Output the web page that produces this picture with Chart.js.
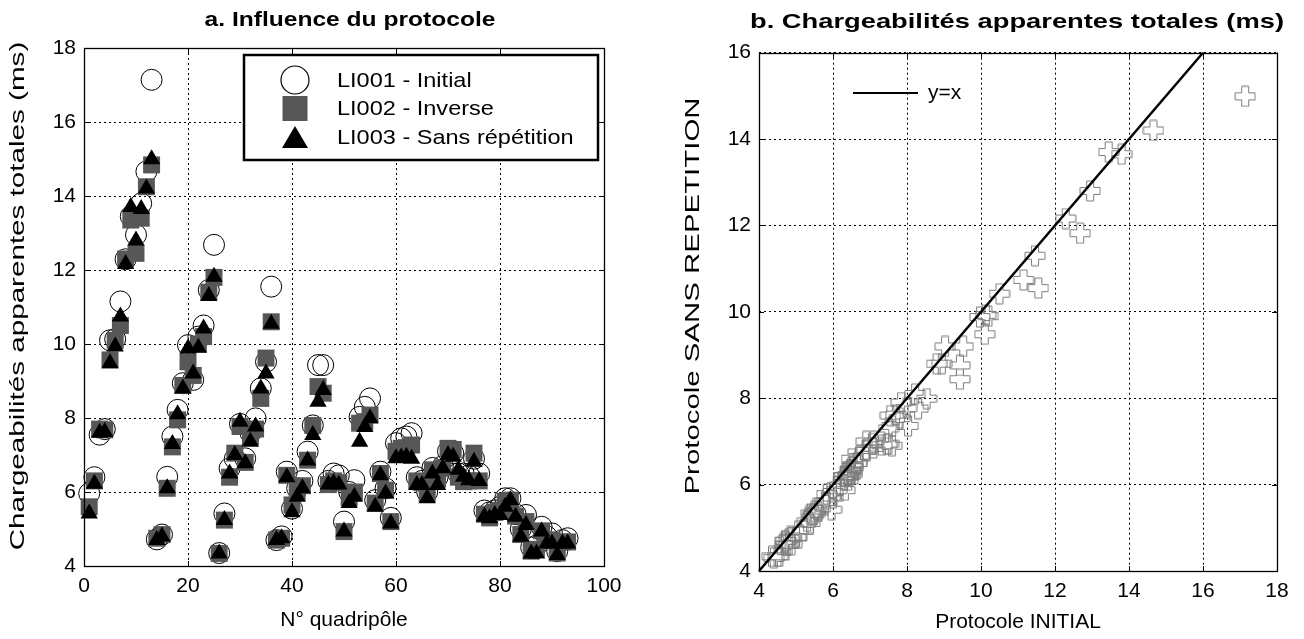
<!DOCTYPE html>
<html>
<head>
<meta charset="utf-8">
<script src="https://cdn.jsdelivr.net/npm/chart.js@4.4.0/dist/chart.umd.min.js"></script>
<style>
html,body{margin:0;padding:0;background:#fff;}
#wrap{position:relative;width:1304px;height:639px;overflow:hidden;}
#c1{position:absolute;left:0;top:0;width:640px;height:639px;}
#c2{position:absolute;left:650px;top:0;width:654px;height:639px;}
</style>
</head>
<body>
<div id="wrap">
<canvas id="c1" width="640" height="639"></canvas>
<canvas id="c2" width="654" height="639"></canvas>
</div>
<script>
// ---------- DATA ----------
const quadripoles = [1,2,3,4,5,6,7,8,9,10,11,12,13,14,15,16,17,18,19,20,21,22,23,24,25,26,27,28,29,30,31,32,33,34,35,36,37,38,39,40,41,42,43,44,45,46,47,48,49,50,51,52,53,54,55,56,57,58,59,60,61,62,63,64,65,66,67,68,69,70,71,72,73,74,75,76,77,78,79,80,81,82,83,84,85,86,87,88,89,90,91,92,93];
// LI001 - Initial
const initial = [5.96,6.40,7.55,7.70,10.10,10.13,11.15,12.29,13.45,12.95,13.80,14.66,17.14,4.72,4.85,6.41,7.50,8.22,8.94,9.97,9.03,10.20,10.50,11.46,12.68,4.35,5.42,6.64,6.90,7.84,6.91,7.60,7.99,8.80,9.52,11.55,4.70,4.80,6.55,5.55,6.10,6.30,7.09,7.80,9.43,9.43,6.30,6.50,6.45,5.20,6.00,6.32,8.03,8.30,8.53,5.78,6.55,6.10,5.30,7.32,7.45,7.50,7.59,6.40,6.30,6.00,6.65,6.40,6.70,7.10,7.05,6.50,6.50,6.45,6.90,6.50,5.50,5.45,5.50,5.60,5.83,5.83,5.40,5.00,5.38,4.50,4.55,5.06,4.80,4.88,4.40,4.70,4.75];
// LI002 - Inverse
const inverse = [5.60,6.30,7.70,7.68,9.57,10.10,10.50,12.30,13.35,12.45,13.40,14.25,14.84,4.75,4.85,6.10,7.22,7.95,8.88,9.52,9.15,10.00,10.20,11.40,11.80,4.34,5.24,6.40,7.05,7.77,6.80,7.50,7.70,8.53,9.62,10.60,4.70,4.75,6.45,5.65,6.00,6.17,6.86,7.80,8.85,8.67,6.20,6.30,6.25,4.93,5.85,6.00,7.86,7.90,8.08,5.70,6.50,6.05,5.20,7.10,7.18,7.20,7.27,6.30,6.25,5.95,6.60,6.35,6.65,7.18,7.15,6.40,6.28,6.30,7.05,6.30,5.40,5.30,5.45,5.50,5.75,5.78,5.35,4.85,5.20,4.40,4.45,4.95,4.70,4.70,4.35,4.65,4.65];
// LI003 - Sans répétition
const sansRepetition = [5.42,6.22,7.60,7.62,9.48,9.93,10.74,12.16,13.70,12.80,13.65,14.20,14.99,4.70,4.80,6.10,7.30,8.10,8.80,9.88,9.20,9.90,10.42,11.30,11.82,4.34,5.24,6.50,7.00,7.90,6.78,7.36,7.77,8.80,9.20,10.55,4.70,4.75,6.40,5.45,5.87,6.10,6.85,7.54,8.44,8.76,6.20,6.24,6.20,4.93,5.70,5.87,7.36,7.76,7.99,5.60,6.45,5.96,5.15,6.91,6.93,6.95,6.90,6.19,6.19,5.83,6.50,6.19,6.64,7.00,6.95,6.60,6.41,6.32,6.82,6.30,5.33,5.29,5.38,5.38,5.60,5.78,5.33,4.79,5.11,4.34,4.34,4.93,4.61,4.61,4.30,4.61,4.61];
// y = x reference line (ends)
const identityLine = [4, 16];
// tick settings [min, max, step]
const leftXTicks = [0, 100, 20];
const leftYTicks = [4, 18, 2];
const rightXTicks = [4, 18, 2];
const rightYTicks = [4, 16, 2];

const FONT = "'Liberation Sans', Arial, Helvetica, sans-serif";
const FS = 21;
const seriesNames = ['LI001 - Initial', 'LI002 - Inverse', 'LI003 - Sans répétition'];
const titleA = 'a. Influence du protocole';
const titleB = 'b. Chargeabilités apparentes totales (ms)';
const yTitleA = 'Chargeabilités apparentes totales (ms)';
const yTitleB = 'Protocole SANS REPETITION';

// ---------- helpers ----------
function textAt(ctx, text, cx, cy, rot, sx, font){
  ctx.save();
  ctx.translate(cx, cy);
  ctx.rotate(rot);
  ctx.scale(sx, 1);
  ctx.font = font;
  ctx.fillStyle = '#000';
  ctx.textAlign = 'center';
  ctx.textBaseline = 'middle';
  ctx.fillText(text, 0, 0);
  ctx.restore();
}

function framePlugin(id){
  return {
    id: id,
    afterDraw(chart){
      const {ctx, chartArea:a, scales} = chart;
      ctx.save();
      ctx.strokeStyle = '#000';
      ctx.lineWidth = 1;
      ctx.setLineDash([]);
      const tl = 5;
      ctx.beginPath();
      scales.x.ticks.forEach(t => {
        const px = Math.round(scales.x.getPixelForValue(t.value)) + 0.5;
        ctx.moveTo(px, a.bottom); ctx.lineTo(px, a.bottom - tl);
        ctx.moveTo(px, a.top); ctx.lineTo(px, a.top + tl);
      });
      scales.y.ticks.forEach(t => {
        const py = Math.round(scales.y.getPixelForValue(t.value)) + 0.5;
        ctx.moveTo(a.left, py); ctx.lineTo(a.left + tl, py);
        ctx.moveTo(a.right, py); ctx.lineTo(a.right - tl, py);
      });
      ctx.stroke();
      ctx.lineWidth = 1.3;
      ctx.strokeRect(Math.round(a.left)+0.5, Math.round(a.top)+0.5, Math.round(a.right-a.left), Math.round(a.bottom-a.top));
      ctx.restore();
    }
  };
}

function fixSize(w){ return function(scale){ scale.width = w; }; }
function fixHeight(h){ return function(scale){ scale.height = h; }; }

function axisCommon(min, max, step, title, titlePad){
  return {
    type: 'linear',
    min: min, max: max,
    ticks: {stepSize: step, color: '#000', font: {family: FONT, size: FS}, padding: 8},
    grid: {color: '#000', lineWidth: 1, drawTicks: false},
    border: {display: false, dash: [2, 3]},
    title: {display: !!title, text: title || '', color: '#000', font: {family: FONT, size: FS}, padding: titlePad}
  };
}

// ---------- LEFT CHART ----------
const decoA = {
  id: 'decoA',
  afterDraw(chart){
    const ctx = chart.ctx;
    const a = chart.chartArea;
    textAt(ctx, titleA, 350, 20, 0, 1.17, 'bold ' + FS + 'px ' + FONT);
    textAt(ctx, yTitleA, 18, 296, -Math.PI/2, 1.41, FS + 'px ' + FONT);
    ctx.save();
    ctx.fillStyle = '#fff';
    ctx.fillRect(244, 55, 354, 105);
    ctx.strokeStyle = '#000';
    ctx.lineWidth = 2.5;
    ctx.strokeRect(244, 55, 354, 105);
    const cx = 295;
    ctx.lineWidth = 1.2;
    ctx.beginPath(); ctx.arc(cx, 80, 14, 0, Math.PI*2); ctx.stroke();
    ctx.fillStyle = '#575757';
    ctx.fillRect(cx-12.5, 96, 25, 25);
    ctx.fillStyle = '#000';
    ctx.beginPath(); ctx.moveTo(cx, 126); ctx.lineTo(cx+13, 148); ctx.lineTo(cx-13, 148); ctx.closePath(); ctx.fill();
    ctx.restore();
    const legFont = FS + 'px ' + FONT;
    [81, 109, 138].forEach((yy, i) => {
      ctx.save();
      ctx.translate(337, yy);
      ctx.scale(1.12, 1);
      ctx.font = legFont;
      ctx.fillStyle = '#000';
      ctx.textAlign = 'left';
      ctx.textBaseline = 'middle';
      ctx.fillText(seriesNames[i], 0, 0);
      ctx.restore();
    });
  }
};

const xA = axisCommon(leftXTicks[0], leftXTicks[1], leftXTicks[2], 'N° quadripôle', {top: 4, bottom: 6});
xA.afterFit = fixHeight(73);
const yA = axisCommon(leftYTicks[0], leftYTicks[1], leftYTicks[2], null, 0);
yA.afterFit = fixSize(84);

new Chart(document.getElementById('c1'), {
  type: 'scatter',
  data: {
    datasets: [
      {label: seriesNames[0], order: 3, data: quadripoles.map((x,i)=>({x: x, y: initial[i]})),
       pointStyle: 'circle', pointRadius: 10.5, pointBackgroundColor: 'rgba(0,0,0,0)', pointBorderColor: '#000', pointBorderWidth: 1},
      {label: seriesNames[1], order: 2, data: quadripoles.map((x,i)=>({x: x, y: inverse[i]})),
       pointStyle: 'rect', pointRadius: 12, pointBackgroundColor: '#575757', pointBorderColor: '#575757', pointBorderWidth: 0},
      {label: seriesNames[2], order: 1, data: quadripoles.map((x,i)=>({x: x, y: sansRepetition[i]})),
       pointStyle: 'triangle', pointRadius: 10, pointBackgroundColor: '#000', pointBorderColor: '#000', pointBorderWidth: 0}
    ]
  },
  options: {
    responsive: false, animation: false, devicePixelRatio: 1,
    layout: {padding: {left: 0, right: 36, top: 48, bottom: 0}},
    clip: false,
    plugins: {legend: {display: false}, tooltip: {enabled: false}, title: {display: false}},
    scales: {x: xA, y: yA}
  },
  plugins: [framePlugin('frameA'), decoA]
});

// ---------- RIGHT CHART ----------
function makeCross(){
  const c = document.createElement('canvas');
  c.width = 22; c.height = 22;
  const g = c.getContext('2d');
  const m = 11, L = 10, a = 3.5;
  g.strokeStyle = '#7d7d7d';
  g.lineWidth = 1;
  g.beginPath();
  g.moveTo(m-a, m-L); g.lineTo(m+a, m-L); g.lineTo(m+a, m-a); g.lineTo(m+L, m-a);
  g.lineTo(m+L, m+a); g.lineTo(m+a, m+a); g.lineTo(m+a, m+L); g.lineTo(m-a, m+L);
  g.lineTo(m-a, m+a); g.lineTo(m-L, m+a); g.lineTo(m-L, m-a); g.lineTo(m-a, m-a);
  g.closePath();
  g.stroke();
  return c;
}

const decoB = {
  id: 'decoB',
  afterDraw(chart){
    const ctx = chart.ctx;
    textAt(ctx, titleB, 367, 22, 0, 1.30, 'bold ' + FS + 'px ' + FONT);
    textAt(ctx, yTitleB, 43, 296, -Math.PI/2, 1.40, FS + 'px ' + FONT);
    ctx.save();
    ctx.strokeStyle = '#000';
    ctx.lineWidth = 2;
    ctx.beginPath(); ctx.moveTo(203, 93); ctx.lineTo(268, 93); ctx.stroke();
    ctx.fillStyle = '#000';
    ctx.font = FS + 'px ' + FONT;
    ctx.textBaseline = 'middle';
    ctx.fillText('y=x', 278, 93);
    ctx.restore();
  }
};

const xB = axisCommon(rightXTicks[0], rightXTicks[1], rightXTicks[2], 'Protocole INITIAL', {top: 4, bottom: 4});
xB.afterFit = fixHeight(68);
const yB = axisCommon(rightYTicks[0], rightYTicks[1], rightYTicks[2], null, 0);
yB.afterFit = fixSize(109);

new Chart(document.getElementById('c2'), {
  type: 'scatter',
  data: {
    datasets: [
      {type: 'line', label: 'y=x', order: 1, data: identityLine.map(v => ({x: v, y: v})),
       borderColor: '#000', borderWidth: 2.5, pointRadius: 0, fill: false, tension: 0},
      {label: 'crosses', order: 2, data: initial.map((x,i)=>({x: x, y: sansRepetition[i]})),
       pointStyle: makeCross(), pointRadius: 10}
    ]
  },
  options: {
    responsive: false, animation: false, devicePixelRatio: 1,
    layout: {padding: {left: 0, right: 27, top: 52.7, bottom: 0}},
    clip: false,
    plugins: {legend: {display: false}, tooltip: {enabled: false}, title: {display: false}},
    scales: {x: xB, y: yB}
  },
  plugins: [framePlugin('frameB'), decoB]
});
</script>
</body>
</html>
